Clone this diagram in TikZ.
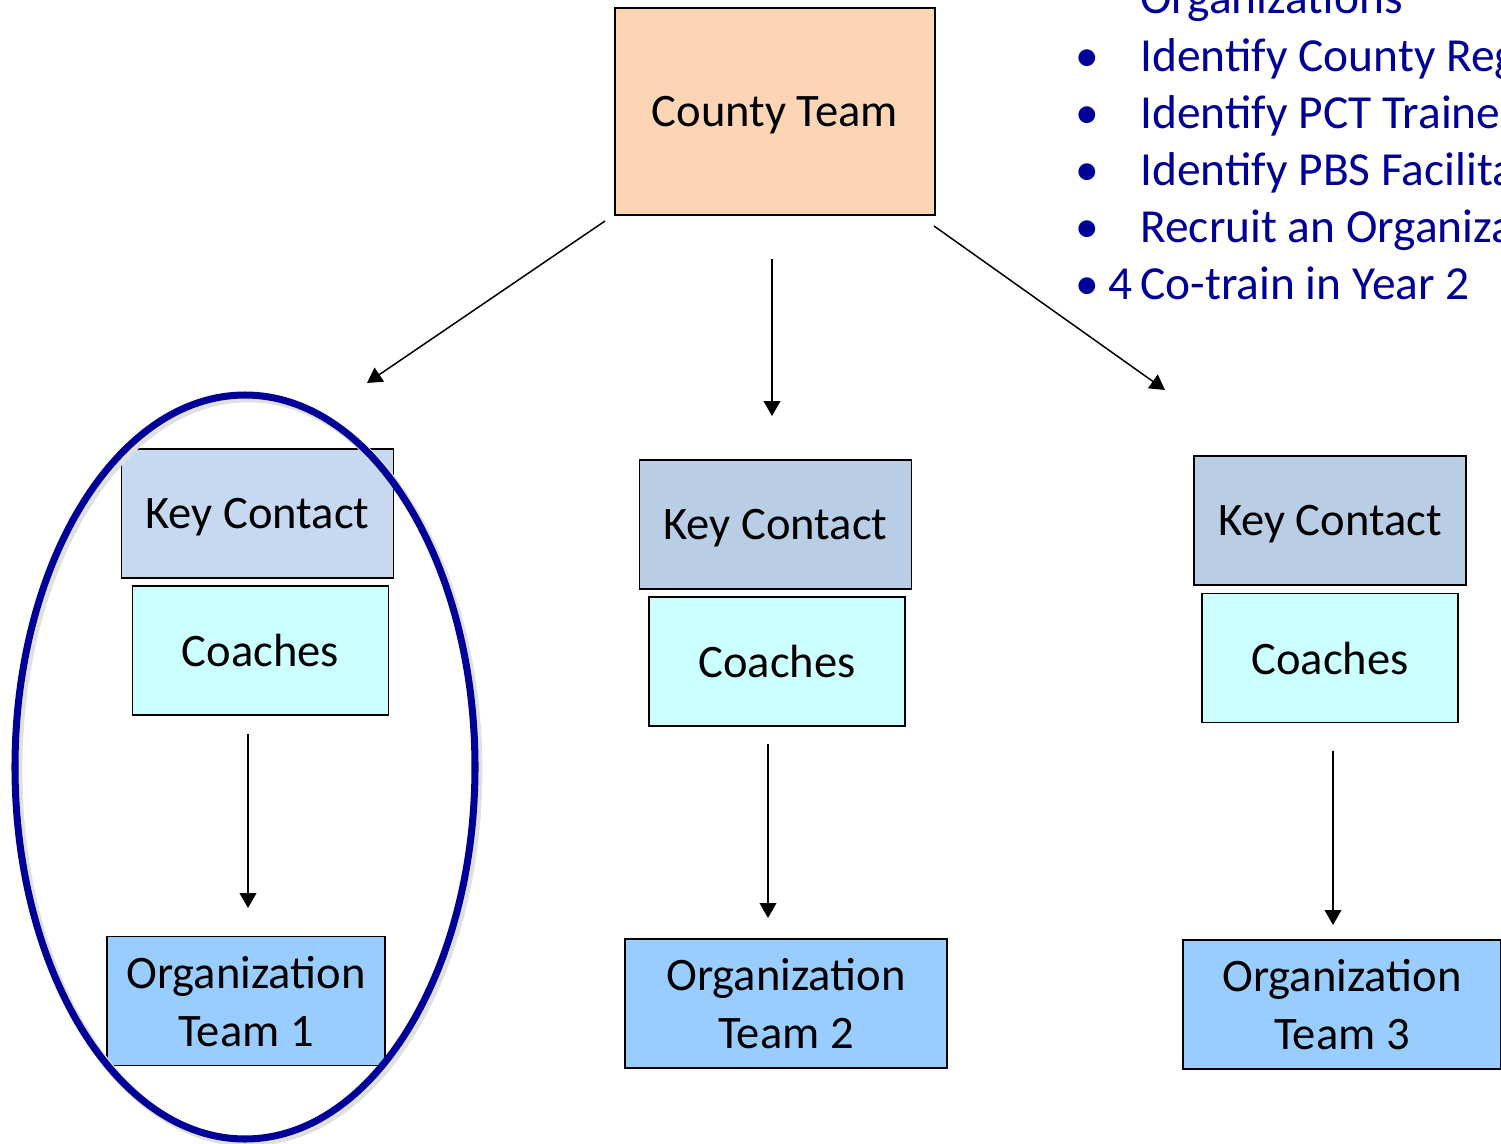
\documentclass[tikz,border=0pt]{standalone}
\usepackage{fontspec}
\setmainfont{Carlito}
\usetikzlibrary{arrows.meta}

\definecolor{peach}{HTML}{FCD5B4}
\definecolor{keylight}{HTML}{C6D9F1}
\definecolor{keyblue}{HTML}{B9CDE5}
\definecolor{coachcyan}{HTML}{CCFFFF}
\definecolor{orgblue}{HTML}{99CCFF}
\definecolor{navy}{HTML}{000099}

\begin{document}
\begin{tikzpicture}[x=0.02cm, y=-0.02cm,
  box/.style={draw, line width=1pt, inner sep=0pt, align=center, text depth=0pt, font=\fontsize{26.5}{33}\selectfont},
  countybox/.style={box, fill=peach, minimum width=6.4cm, minimum height=4.14cm},
  keybox/.style={box, fill=keyblue, minimum width=5.44cm, minimum height=2.58cm},
  coachbox/.style={box, fill=coachcyan, minimum width=5.12cm, minimum height=2.58cm},
  orgbox/.style={box, fill=orgblue, minimum height=2.58cm},
  link/.style={-{Triangle[length=8.5pt,width=9.5pt]}, line width=0.85pt},
  item/.style={anchor=base west, inner sep=0pt, text=navy, font=\fontsize{27}{33}\selectfont},
  dot/.style={anchor=base, inner sep=0pt, text=navy, font=\fontsize{27}{33}\selectfont}]

\path[use as bounding box, clip] (0,0) rectangle (1501,1143);

% County team box
\node[countybox] (county) at (775,111.5) {County Team};

% Three groups: key contact, coaches, organization team
\node[keybox, fill=keylight] (key1) at (257.5,513.5) {Key Contact};
\node[keybox] (key2) at (775.5,524.5) {Key Contact};
\node[keybox] (key3) at (1330,520.5) {Key Contact};

\node[coachbox] (coach1) at (260.5,650.5) {Coaches};
\node[coachbox] (coach2) at (777,661.5) {Coaches};
\node[coachbox] (coach3) at (1330,658) {Coaches};

\node[orgbox, minimum width=5.56cm] (org1) at (246,1001) {Organization\\Team 1};
\node[orgbox, minimum width=6.44cm] (org2) at (786,1003.5) {Organization\\Team 2};
\node[orgbox, minimum width=6.36cm] (org3) at (1342,1004.5) {Organization\\Team 3};

% Free arrow ends
\coordinate (split1) at (605,221);
\coordinate (split2) at (772,259);
\coordinate (split3) at (934,226);
\coordinate (group1) at (367,383);
\coordinate (group2) at (772,416);
\coordinate (group3) at (1165,390);
\coordinate (from1) at (248,734);
\coordinate (from2) at (768,744);
\coordinate (from3) at (1333,751);
\coordinate (to1) at (248,908);
\coordinate (to2) at (768,918);
\coordinate (to3) at (1333,925);

% Draw arrows
\draw[link] (split1) -- (group1);
\draw[link] (split2) -- (group2);
\draw[link] (split3) -- (group3);
\draw[link] (from1) -- (to1);
\draw[link] (from2) -- (to2);
\draw[link] (from3) -- (to3);

% Ring round the first group
\draw[black!12, line width=5pt] (248,770) ellipse [x radius=230, y radius=372];
\draw[navy, line width=4pt] (245,767) ellipse [x radius=230, y radius=372];

% Task list, cut off at the right edge
\node[item] (task0) at (1140,13) {Organizations};
\node[dot] (dot1) at (1087,71) {•};
\node[item] (task1) at (1140,71) {Identify County Reg};
\node[dot] (dot2) at (1087,128) {•};
\node[item] (task2) at (1140,128) {Identify PCT Trainee};
\node[dot] (dot3) at (1087,185) {•};
\node[item] (task3) at (1140,185) {Identify PBS Facilita};
\node[dot] (dot4) at (1087,242) {•};
\node[item] (task4) at (1140,242) {Recruit an Organiza};
\node[dot] (dot5) at (1087,299) {•};
\node[item] (num5) at (1108,299) {4};
\node[item] (task5) at (1140,299) {Co-train in Year 2};

\end{tikzpicture}
\end{document}
